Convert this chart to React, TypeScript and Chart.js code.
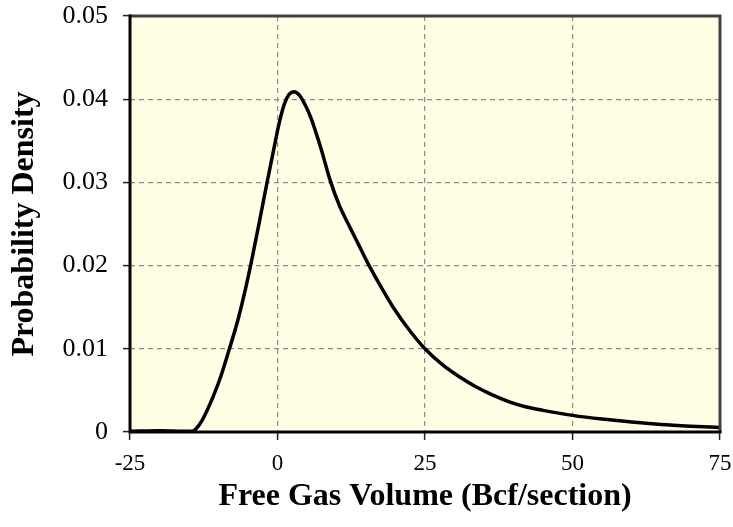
import React, { useEffect, useRef } from "react";
import { Chart, registerables } from "chart.js";

Chart.register(...registerables);

const volumeX: number[] = [
  -25, -20, -16, -14.5, -13.8, -12.7, -11, -9.6, -8.15, -6.7, -5.3, -4.3, -3.06, -1.8, -0.6,
  0.34, 1.2, 2.0, 2.8, 3.7, 4.7, 5.7, 6.6, 7.4, 8.9, 10.5, 12.2, 13.9, 15.6, 17.5, 19.6, 22.4,
  25, 28.1, 30.9, 33.7, 36.6, 39.4, 42.2, 45, 50, 55, 60, 65, 70, 75,
];
const densityY: number[] = [
  0.0001, 0.00015, 0.0001, 0.0001, 0.0004, 0.0015, 0.0041, 0.0067, 0.01, 0.0135, 0.0176, 0.0209,
  0.0253, 0.0299, 0.0341, 0.0373, 0.0395, 0.0406, 0.0409, 0.0405, 0.0393, 0.0377, 0.0358, 0.034,
  0.0303, 0.0272, 0.0247, 0.0223, 0.0199, 0.0175, 0.015, 0.0122, 0.01, 0.008, 0.0066, 0.0054,
  0.0044, 0.0036, 0.003, 0.0026, 0.002, 0.00155, 0.0012, 0.0009, 0.0007, 0.00055,
];
const xTicks: number[] = [-25, 0, 25, 50, 75];
const yTicks: number[] = [0, 0.01, 0.02, 0.03, 0.04, 0.05];
const xTitle = "Free Gas Volume (Bcf/section)";
const yTitle = "Probability Density";

const framePlugin = {
  id: "frame",
  beforeDraw(chart: any) {
    const { ctx, chartArea: a } = chart;
    ctx.save();
    ctx.fillStyle = "#FFFFE6";
    ctx.fillRect(a.left, a.top, a.right - a.left, a.bottom - a.top);
    ctx.restore();
  },
  afterDatasetsDraw(chart: any) {
    const { ctx, chartArea: a } = chart;
    ctx.save();
    ctx.lineWidth = 3;
    ctx.strokeStyle = "#404040";
    ctx.beginPath();
    ctx.moveTo(a.left, a.top);
    ctx.lineTo(a.right, a.top);
    ctx.lineTo(a.right, a.bottom);
    ctx.stroke();
    ctx.strokeStyle = "#000000";
    ctx.beginPath();
    ctx.moveTo(a.left, a.top - 1.5);
    ctx.lineTo(a.left, a.bottom);
    ctx.lineTo(a.right + 1.5, a.bottom);
    ctx.stroke();
    ctx.restore();
  },
};

export default function App() {
  const ref = useRef<HTMLCanvasElement | null>(null);
  useEffect(() => {
    document.body.style.margin = "0";
    const canvas = ref.current;
    if (!canvas) return;
    const inner = (v: number, lo: number, hi: number) => v > lo && v < hi;
    const chart = new Chart(canvas, {
      type: "line",
      data: {
        datasets: [
          {
            data: volumeX.map((x, i) => ({ x, y: densityY[i] })),
            borderColor: "#000000",
            borderWidth: 3.5,
            pointRadius: 0,
            fill: false,
            cubicInterpolationMode: "monotone",
          },
        ],
      },
      options: {
        animation: false,
        responsive: false,
        maintainAspectRatio: false,
        layout: { padding: { left: 0, right: 13, top: 16, bottom: 0 } },
        plugins: { legend: { display: false }, tooltip: { enabled: false } },
        scales: {
          x: {
            type: "linear",
            min: -25,
            max: 75,
            afterBuildTicks: (s: any) => {
              s.ticks = xTicks.map((v) => ({ value: v }));
            },
            afterFit: (s: any) => {
              s.height = 95;
              s.paddingLeft = 0;
              s.paddingRight = 0;
            },
            ticks: {
              color: "#000",
              font: { family: "'Liberation Serif', serif", size: 23 },
              padding: 10,
              maxRotation: 0,
              callback: (v: any) => String(v),
            },
            grid: {
              color: (c: any) => (inner(c.tick?.value, -25, 75) ? "#8c8c8c" : "rgba(0,0,0,0)"),
              lineWidth: 1.2,
              tickLength: 8,
              tickColor: "#222",
              tickWidth: 1.5,
            },
            border: { display: false, dash: [5, 4] },
            title: {
              display: true,
              text: xTitle,
              color: "#000",
              font: { family: "'Liberation Serif', serif", size: 32, weight: "bold" },
              padding: { top: 0, bottom: 11 },
            },
          },
          y: {
            type: "linear",
            min: 0,
            max: 0.05,
            afterBuildTicks: (s: any) => {
              s.ticks = yTicks.map((v) => ({ value: v }));
            },
            afterFit: (s: any) => {
              s.width = 130;
              s.paddingTop = 0;
              s.paddingBottom = 0;
            },
            ticks: {
              color: "#000",
              font: { family: "'Liberation Serif', serif", size: 26 },
              padding: 15,
              callback: (v: any) => (Number(v) === 0 ? "0" : Number(v).toFixed(2)),
            },
            grid: {
              color: (c: any) => (inner(c.tick?.value, 0.0001, 0.0499) ? "#8c8c8c" : "rgba(0,0,0,0)"),
              lineWidth: 1.2,
              tickLength: 7,
              tickColor: "#222",
              tickWidth: 1.5,
            },
            border: { display: false, dash: [5, 4] },
            title: {
              display: true,
              text: yTitle,
              color: "#000",
              font: { family: "'Liberation Serif', serif", size: 32, weight: "bold" },
              padding: { top: 6, bottom: 0 },
            },
          },
        },
      },
      plugins: [framePlugin],
    } as any);
    return () => chart.destroy();
  }, []);
  return (
    <div style={{ position: "absolute", left: 0, top: 0, width: 733, height: 527 }}>
      <canvas ref={ref} width={733} height={527} style={{ width: 733, height: 527 }} />
    </div>
  );
}
